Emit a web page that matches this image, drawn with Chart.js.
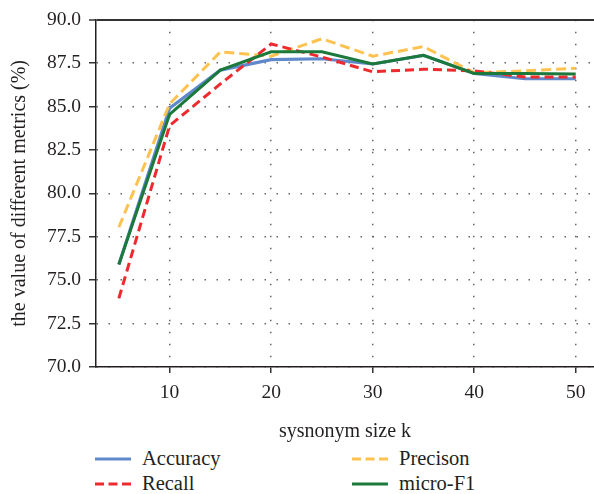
<!DOCTYPE html>
<html>
<head>
<meta charset="utf-8">
<script src="https://cdn.jsdelivr.net/npm/chart.js@4/dist/chart.umd.min.js"></script>
<style>
  html, body { margin: 0; padding: 0; background: #fff; }
  #wrap { position: relative; width: 594px; height: 494px; overflow: hidden; }
  #chart { position: absolute; left: 0; top: 0; }
  .leg { position: absolute; font-family: "Liberation Serif", serif; font-size: 20.5px; color: #231f20; line-height: 24px; white-space: nowrap; }
  .leg svg { position: absolute; left: 0; top: 10px; }
  .leg span { position: absolute; left: 47px; top: 0; }
</style>
</head>
<body>
<div id="wrap">
  <canvas id="chart" width="594" height="445"></canvas>
  <div id="legend"></div>
</div>
<script>
// synonym size k vs. metrics (%)
const SIZES = [5, 10, 15, 20, 25, 30, 35, 40, 45, 50];
const ACCURACY  = [75.9, 84.9, 87.1, 87.7, 87.75, 87.45, 87.95, 86.9, 86.6, 86.6];
const RECALL    = [73.95, 83.9, 86.3, 88.6, 87.85, 87.0, 87.15, 87.05, 86.7, 86.7];
const PRECISION = [78.05, 85.15, 88.15, 87.9, 88.9, 87.9, 88.45, 86.95, 87.05, 87.2];
const MICRO_F1  = [75.9, 84.55, 87.1, 88.15, 88.15, 87.45, 87.95, 86.9, 86.9, 86.87];
const X_TICKS = [10, 20, 30, 40, 50];

const FONT = "'Liberation Serif', serif";
const INK = "#231f20";

const series = [
  { label: "Accuracy", data: ACCURACY,  color: "#6089cb", dash: [],     width: 3.2, order: 3 },
  { label: "Recall",   data: RECALL,    color: "#ee2a2f", dash: [9, 5], width: 3,   order: 1 },
  { label: "Precison", data: PRECISION, color: "#fdc24f", dash: [10, 5], width: 3,  order: 2 },
  { label: "micro-F1", data: MICRO_F1,  color: "#1b7a3b", dash: [],     width: 3,   order: 0 },
];

const ctx = document.getElementById("chart").getContext("2d");
new Chart(ctx, {
  type: "line",
  data: {
    datasets: series.map(s => ({
      label: s.label,
      data: SIZES.map((k, i) => ({ x: k, y: s.data[i] })),
      borderColor: s.color,
      backgroundColor: s.color,
      borderWidth: s.width,
      borderDash: s.dash,
      pointRadius: 0,
      tension: 0,
      fill: false,
      order: s.order,
    })),
  },
  options: {
    responsive: false,
    animation: false,
    layout: { padding: { top: 8, right: 0, bottom: 0, left: 0 } },
    plugins: { legend: { display: false }, tooltip: { enabled: false } },
    scales: {
      x: {
        type: "linear",
        min: 2.75,
        max: 51.8,
        afterBuildTicks: s => { s.ticks = X_TICKS.map(v => ({ value: v })); },
        afterFit: s => { s.height = 78; },
        ticks: { color: INK, font: { family: FONT, size: 19.5 }, padding: 8, maxRotation: 0 },
        grid: { color: "#666", lineWidth: 1.5, tickLength: 6, tickColor: "#333", tickWidth: 1.5 },
        border: { color: INK, width: 1.5, dash: [1.5, 10.5] },
        title: { display: true, text: "sysnonym size k", color: INK, font: { family: FONT, size: 20 }, padding: { bottom: 1 } },
      },
      y: {
        min: 70,
        max: 90,
        afterFit: s => { s.width = 96; },
        ticks: { stepSize: 2.5, color: INK, font: { family: FONT, size: 19.5 }, padding: 8, callback: v => v.toFixed(1) },
        grid: {
          color: c => c.tick && c.tick.value === 90 ? "#333" : "#666",
          lineWidth: c => c.tick && c.tick.value === 90 ? 2 : 1.5,
          tickLength: 7, tickColor: "#333", tickWidth: 1.5,
        },
        border: { color: INK, width: 1.5, dash: c => c.tick && c.tick.value === 90 ? [] : [1.5, 10.5] },
        title: { display: true, text: "the value of different metrics (%)", color: INK, font: { family: FONT, size: 20 }, padding: { top: 8 } },
      },
    },
  },
});

// legend: two columns, two rows
const legendPos = [
  { left: 95, top: 446 }, { left: 352, top: 446 },
  { left: 95, top: 471 }, { left: 352, top: 471 },
];
const legendOrder = ["Accuracy", "Precison", "Recall", "micro-F1"];
document.getElementById("legend").innerHTML = legendOrder.map((name, i) => {
  const s = series.find(d => d.label === name);
  const p = legendPos[i];
  return `<div class="leg" style="left:${p.left}px;top:${p.top}px">
    <svg width="36" height="6"><line x1="0" y1="3" x2="36" y2="3" stroke="${s.color}" stroke-width="3" stroke-dasharray="${s.dash.length ? '9,4.5' : 'none'}"/></svg>
    <span>${name}</span></div>`;
}).join("");
</script>
</body>
</html>
